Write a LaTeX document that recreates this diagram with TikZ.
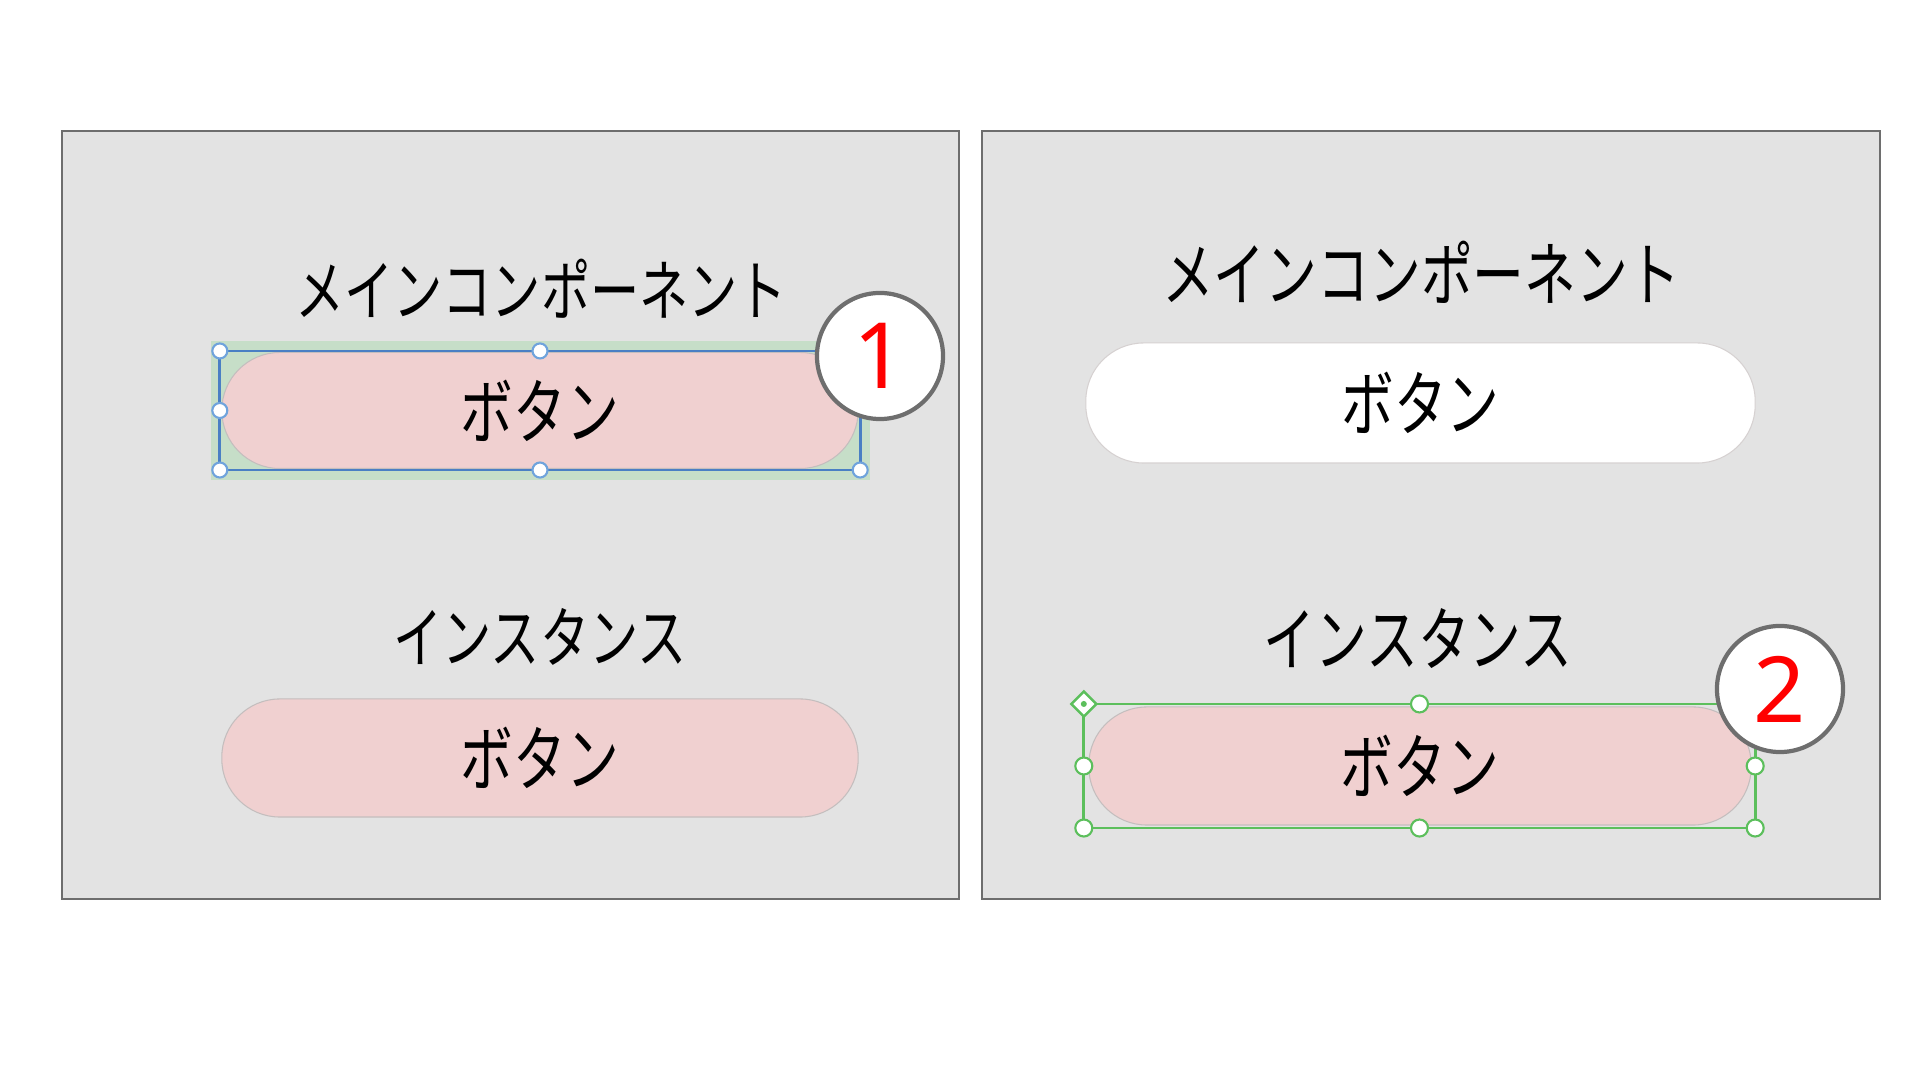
\documentclass[tikz,border=0pt]{standalone}
\usepackage{fontspec}
\setmainfont{Noto Sans}
\newfontfamily\jpfont[FakeStretch=0.74]{Noto Sans CJK JP}
\usepackage{tikz}
\usetikzlibrary{shapes.geometric,positioning}
\definecolor{panelgray}{HTML}{E3E3E3}
\definecolor{framegray}{HTML}{6E6E6E}
\definecolor{pillpink}{HTML}{F0D0D0}
\definecolor{pillline}{HTML}{C4BEBE}
\definecolor{selblue}{HTML}{4A7FC4}
\definecolor{handleblue}{HTML}{6FA3DC}
\definecolor{selgreen}{HTML}{5CBF5C}
\definecolor{bandgreen}{HTML}{C6DEC8}
\definecolor{numred}{HTML}{FF0000}

\begin{document}
\begin{tikzpicture}[x=0.01cm,y=-0.01cm,
  panel/.style={draw=framegray,fill=panelgray,line width=0.6pt,inner sep=0pt},
  title/.style={font=\jpfont\fontsize{18.9}{21}\selectfont,inner sep=0pt},
  pill/.style={draw=pillline,line width=0.3pt,rounded corners=0.58cm,minimum width=6.36cm,minimum height=1.16cm,inner sep=0pt,font=\jpfont\fontsize{20.3}{23}\selectfont},
  selbox/.style={minimum width=#1,inner sep=0pt,outer sep=0pt},
  handleA/.style={circle,draw=handleblue,fill=white,line width=0.6pt,minimum size=0.15cm,inner sep=0pt},
  handleB/.style={circle,draw=selgreen,fill=white,line width=0.6pt,minimum size=0.17cm,inner sep=0pt},
  badge/.style={circle,draw=framegray,fill=white,line width=1.2pt,minimum size=1.26cm,inner sep=0pt,text=numred,font=\fontsize{26}{28}\selectfont}]
\useasboundingbox (0,0) rectangle (1920,1080);

\node[panel,minimum width=8.97cm,minimum height=7.68cm] (panelL) at (510.5,515) {};
\node[panel,minimum width=8.98cm,minimum height=7.68cm] (panelR) at (1431,515) {};

\node[title] (mainL) at (541,289) {メインコンポーネント};
\node[selbox=6.59cm,minimum height=1.39cm,fill=bandgreen] (bandA) at (540.5,410.5) {};
\node[pill,fill=pillpink] (btnA) at (540,410.5) {ボタン};
\node[selbox=6.40cm,minimum height=1.19cm,draw=selblue,line width=0.8pt] (selA) at (540,410.5) {};
\foreach \a [count=\i] in {north west,north,west,south west,south,south east}
  \node[handleA] (hA\i) at (selA.\a) {};
\node[badge] (numA) at (880,356) {1};

\node[title] (instL) at (540,637) {インスタンス};
\node[pill,fill=pillpink,minimum height=1.18cm] (btnB) at (540,758) {ボタン};

\node[title,font=\jpfont\fontsize{19.9}{22}\selectfont] (mainR) at (1421,272) {メインコンポーネント};
\node[pill,fill=white,draw=pillline!70,minimum width=6.69cm,minimum height=1.20cm] (btnC) at (1420.5,403) {ボタン};

\node[title,font=\jpfont\fontsize{19.9}{22}\selectfont] (instR) at (1418,639) {インスタンス};
\node[pill,fill=pillpink,minimum width=6.62cm,minimum height=1.18cm] (btnD) at (1420,766) {ボタン};
\node[selbox=6.71cm,minimum height=1.24cm,draw=selgreen,line width=0.8pt] (selD) at (1419.5,766) {};
\foreach \a [count=\i] in {north,west,south west,south,south east,east}
  \node[handleB] (hD\i) at (selD.\a) {};
\node[diamond,draw=selgreen,fill=white,line width=0.7pt,minimum size=0.26cm,inner sep=0pt] (hD0) at (selD.north west) {};
\node[circle,fill=selgreen,minimum size=0.06cm,inner sep=0pt] (hDdot) at (selD.north west) {};
\node[badge] (numD) at (1780,689) {2};
\end{tikzpicture}
\end{document}
